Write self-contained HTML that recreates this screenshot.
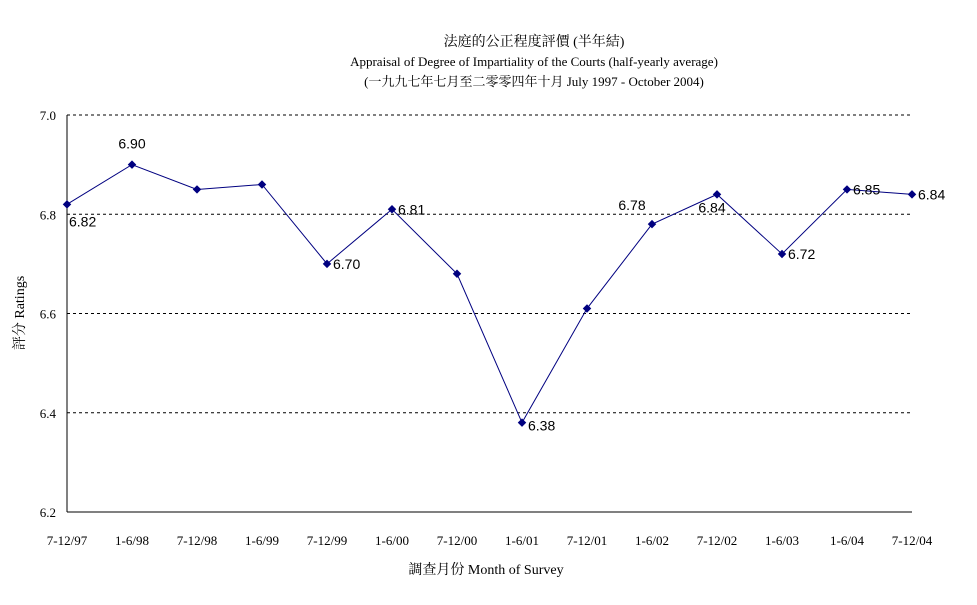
<!DOCTYPE html>
<html><head><meta charset="utf-8">
<style>
body{margin:0;background:#fff;}
svg text{font-family:"Liberation Sans","Noto Sans CJK TC",sans-serif;}
.t{font-family:"Liberation Serif","Noto Serif CJK SC",serif !important;}
</style></head><body>
<svg width="977" height="600" viewBox="0 0 977 600">
<g id="chart"></g>
</svg>
<script>
const categories=["7-12/97","1-6/98","7-12/98","1-6/99","7-12/99","1-6/00","7-12/00","1-6/01","7-12/01","1-6/02","7-12/02","1-6/03","1-6/04","7-12/04"];
const ratings=[6.82,6.90,6.85,6.86,6.70,6.81,6.68,6.38,6.61,6.78,6.84,6.72,6.85,6.84];
const pointLabels=["6.82","6.90","","","6.70","6.81","","6.38","","6.78","6.84","6.72","6.85","6.84"];
const yTicks=[6.2,6.4,6.6,6.8,7.0];
const yTickLabels=["6.2","6.4","6.6","6.8","7.0"];
const NS="http://www.w3.org/2000/svg";
const g=document.getElementById('chart');
const L=67,R=912,T=115,B=512,ymin=6.2,ymax=7.0;
const xs=i=>L+i*(R-L)/(categories.length-1);
const ys=v=>B-(v-ymin)/(ymax-ymin)*(B-T);
function mk(tag,attrs,txt){const e=document.createElementNS(NS,tag);for(const k in attrs)e.setAttribute(k,attrs[k]);if(txt!==undefined)e.textContent=txt;g.appendChild(e);return e;}
// titles
let e;
e=mk('text',{x:534,y:46,'text-anchor':'middle','font-size':14,class:'t'},'法庭的公正程度評價 (半年結)');

e=mk('text',{x:534,y:66,'text-anchor':'middle','font-size':13,class:'t'},'Appraisal of Degree of Impartiality of the Courts (half-yearly average)');

e=mk('text',{x:534,y:86,'text-anchor':'middle','font-size':13,class:'t'},'(一九九七年七月至二零零四年十月 July 1997 - October 2004)');

// grid and y ticks
yTicks.forEach((v,i)=>{
  if(v>ymin){e=mk('line',{x1:L,x2:R,y1:ys(v),y2:ys(v),stroke:'#000','stroke-dasharray':'3,3','stroke-width':1});
  }
  e=mk('text',{x:L-11,y:ys(v)+5,'text-anchor':'end','font-size':13,class:'t'},yTickLabels[i]);
  
});
e=mk('line',{x1:L,x2:L,y1:T,y2:B,stroke:'#000'});
e=mk('line',{x1:L,x2:R,y1:B,y2:B,stroke:'#000'});
categories.forEach((c,i)=>{
  e=mk('text',{x:xs(i),y:545,'text-anchor':'middle','font-size':13,class:'t'},c);
  
});
e=mk('text',{x:486,y:574,'text-anchor':'middle','font-size':14,class:'t'},'調查月份 Month of Survey');

e=mk('text',{x:0,y:0,'text-anchor':'middle','font-size':14,class:'t',transform:'translate(24,313) rotate(-90)'},'評分 Ratings');

// line
e=mk('polyline',{points:ratings.map((v,i)=>xs(i)+','+ys(v)).join(' '),fill:'none',stroke:'#000080','stroke-width':1});

const offs=[[2,22,'start'],[0,-16,'middle'],[0,0,'start'],[0,0,'start'],[6,5,'start'],[6,5,'start'],[0,0,'start'],[6,8,'start'],[0,0,'start'],[-20,-14,'middle'],[-5,18,'middle'],[6,5,'start'],[6,5,'start'],[6,5,'start']];
ratings.forEach((v,i)=>{
  const x=xs(i),y=ys(v);
  e=mk('rect',{x:x-3,y:y-3,width:6,height:6,fill:'#000080',transform:`rotate(45 ${x} ${y})`});
  
  if(pointLabels[i]){
    e=mk('text',{x:x+offs[i][0],y:y+offs[i][1],'text-anchor':offs[i][2],'font-size':14},pointLabels[i]);
    
  }
});
</script>
</body></html>
